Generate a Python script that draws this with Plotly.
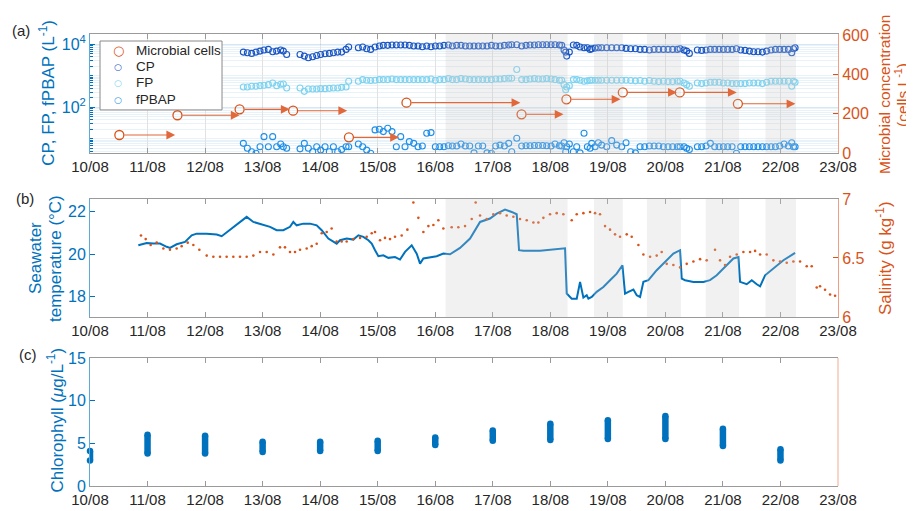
import pandas as pd
import plotly.graph_objects as go

# ---------------- DATA ----------------
day_ticks = ["10/08", "11/08", "12/08", "13/08", "14/08", "15/08", "16/08",
             "17/08", "18/08", "19/08", "20/08", "21/08", "22/08", "23/08"]

# shaded periods (days since 10/08 00:00)
band_start = [6.18, 8.76, 9.68, 10.70, 11.74]
band_end = [8.30, 9.26, 10.27, 11.28, 12.27]

# Panel (a): particle counter sampling times (days since 10/08 00:00)
t_wibs = [2.665, 2.735, 2.81, 2.885, 2.955, 3.024, 3.1, 3.175, 3.244, 3.314, 3.36, 3.418,
          3.65, 3.725, 3.795, 3.87, 3.94, 4.009, 4.085, 4.16, 4.23, 4.305, 4.374, 4.45, 4.496,
          4.664, 4.739, 4.809, 4.878, 4.954, 5.029, 5.098, 5.174, 5.249, 5.324, 5.4, 5.475,
          5.55, 5.626, 5.701, 5.776, 5.852, 5.927, 6.002, 6.078, 6.153, 6.228,
          6.298, 6.373, 6.448, 6.524, 6.599, 6.674, 6.75, 6.825, 6.9, 6.976, 7.051, 7.126,
          7.202, 7.277, 7.329, 7.417,
          7.503, 7.578, 7.648, 7.723, 7.793, 7.868, 7.937, 8.013, 8.082, 8.158, 8.198,
          8.239, 8.268, 8.285, 8.331,
          8.401, 8.459, 8.517, 8.586, 8.644, 8.691, 8.72, 8.778, 8.835, 8.893, 8.98, 9.067,
          9.154, 9.241,
          9.316, 9.397, 9.479, 9.56, 9.641, 9.722, 9.803, 9.884, 9.965, 10.046, 10.127,
          10.208, 10.255, 10.324, 10.37, 10.417,
          10.556, 10.631, 10.707, 10.782, 10.857, 10.933, 11.008, 11.083, 11.159, 11.234,
          11.309, 11.385, 11.46, 11.535, 11.61, 11.686, 11.761, 11.837, 11.912, 11.987,
          12.063, 12.138, 12.196, 12.225, 12.254]

cp = [5680, 5410, 5150, 5680, 6110, 6580, 6920, 5790, 6110, 6580, 6110, 4780,
      4780, 4230, 3740, 4030, 4440, 4780, 5000, 5150, 5410, 5680, 5680, 6920, 8220,
      7820, 8220, 7260, 6920, 8220, 8850, 9290, 9290, 9520, 9520, 9520, 9520,
      9290, 8850, 8850, 8440, 8850, 8440, 8850, 8850, 9290, 9520,
      8850, 9290, 9290, 8850, 8850, 8850, 8850, 8850, 8850, 9290, 8850, 8850,
      9290, 9520, 9750, 9750,
      8850, 9290, 9520, 9520, 9750, 9750, 9750, 9750, 9750, 9520, 9290,
      6580, 5680, 4230, 5680,
      9520, 9290, 8220, 7820, 7820, 6920, 7260, 7600, 7820, 7820, 7820, 7820,
      7820, 7820,
      7430, 7260, 7260, 6920, 6920, 6580, 6920, 6920, 6920, 6920, 6920,
      6920, 7260, 6580, 6110, 5150,
      6580, 6420, 6580, 6920, 6920, 6920, 6920, 6920, 6920, 7260,
      6580, 6420, 6110, 5800, 5800, 5680, 6110, 6580, 6920, 6920,
      6920, 6920, 5410, 7260, 7820]

fp = [440, 440, 462, 462, 485, 497, 522, 591, 485, 535, 548, 408,
      408, 319, 380, 380, 380, 389, 389, 398, 408, 408, 428, 440, 668,
      668, 755, 720, 705, 720, 755, 755, 755, 790, 755, 755, 755,
      755, 755, 755, 755, 755, 790, 720, 755, 755, 813,
      755, 755, 813, 790, 755, 755, 755, 755, 755, 755, 790, 790,
      813, 830, 830, 1580,
      755, 755, 790, 813, 790, 790, 813, 790, 755, 720, 720,
      522, 361, 440, 485,
      755, 755, 720, 668, 690, 720, 720, 720, 720, 720, 720, 720,
      720, 720,
      720, 705, 690, 705, 668, 705, 668, 652, 668, 652, 652,
      668, 668, 591, 522, 462,
      591, 563, 591, 620, 620, 620, 591, 591, 563, 563,
      563, 563, 591, 591, 591, 563, 620, 668, 668, 668,
      668, 668, 462, 668, 620]

fpbap = [7.05, 4.9, 3.8, 3.4, 5.5, 11.5, 5.5, 11.5, 5.5, 6.7, 5.5, 4.9,
         4.7, 7.05, 4.9, 3.8, 5.5, 4.3, 5.5, 3.8, 5.5, 3.8, 4.5, 5.5, 5.5,
         6.7, 5.5, 4.3, 3.4, 18.9, 19.8, 16.7, 21.3, 16.7, 5.5, 11.5, 5.5,
         8.0, 7.05, 5.5, 5.8, 14.8, 15.5, 5.5, 5.5, 5.5, 5.9,
         5.8, 5.8, 6.7, 5.8, 5.8, 3.5, 5.8, 5.8, 3.5, 3.4, 5.8, 6.2,
         5.8, 7.05, 3.8, 10.2,
         5.8, 5.9, 5.9, 6.0, 6.0, 6.0, 5.9, 5.8, 6.7, 5.9, 5.8,
         7.4, 3.8, 5.5, 6.7,
         3.8, 5.5, 3.5, 14.8, 5.5, 4.9, 7.05, 5.5, 7.4, 6.2, 5.5, 8.6,
         6.2, 5.5,
         7.4, 3.8, 3.5, 5.5, 5.5, 5.8, 5.8, 5.8, 5.5, 5.5, 5.5,
         5.5, 5.5, 5.5, 4.9, 4.5,
         5.5, 5.5, 5.8, 7.05, 5.5, 5.5, 5.5, 5.5, 5.5, 3.4,
         5.5, 5.5, 5.5, 5.5, 5.5, 5.5, 5.5, 5.5, 5.5, 5.8,
         6.7, 5.8, 7.4, 5.5, 5.5]

# Microbial cells (right axis): sample start, value, end of sampling period
micro_t = [0.51, 1.52, 2.60, 3.53, 4.50, 5.50, 7.50, 8.28, 9.26, 10.25, 11.26]
micro_v = [93, 193, 223, 216, 81, 257, 198, 274, 309, 309, 251]
micro_end = [1.48, 2.60, 3.47, 4.47, 5.37, 7.48, 8.23, 9.22, 10.20, 11.24, 12.26]

# Panel (b): seawater temperature
temp_t = [0.84, 0.985, 1.10, 1.217, 1.333, 1.39, 1.506, 1.593, 1.651, 1.767, 1.854, 2.028,
          2.202, 2.289, 2.491, 2.607, 2.723, 2.839, 3.013, 3.129, 3.244, 3.36, 3.476, 3.534,
          3.592, 3.708, 3.824, 3.94, 4.027, 4.142, 4.287, 4.345, 4.461, 4.577, 4.664, 4.751,
          4.838, 4.896, 4.954, 5.012, 5.098, 5.185, 5.301, 5.388, 5.475, 5.591, 5.678, 5.736,
          5.794, 5.910, 6.025, 6.141, 6.257, 6.431, 6.605, 6.779, 6.952, 7.068, 7.213, 7.329,
          7.416, 7.457, 7.532, 7.822, 8.053, 8.256, 8.285, 8.372, 8.459, 8.517, 8.575, 8.633,
          8.662, 8.72, 8.806, 8.922, 9.038, 9.154, 9.253, 9.299, 9.357, 9.444, 9.502, 9.56,
          9.618, 9.705, 9.849, 10.023, 10.139, 10.255, 10.284, 10.342, 10.487, 10.66, 10.776,
          10.892, 11.066, 11.182, 11.269, 11.298, 11.414, 11.501, 11.588, 11.646, 11.733,
          11.878, 12.051, 12.254]
temp_v = [20.42, 20.53, 20.50, 20.50, 20.35, 20.30, 20.47, 20.53, 20.58, 20.89, 20.97, 20.97,
          20.93, 20.85, 21.29, 21.52, 21.76, 21.52, 21.36, 21.29, 21.13, 21.13, 21.29, 21.52,
          21.36, 21.44, 21.44, 21.36, 21.13, 20.74, 20.50, 20.66, 20.74, 20.69, 20.89, 20.82,
          20.66, 20.50, 20.19, 19.91, 19.95, 19.83, 19.87, 19.75, 20.11, 20.42, 20.03, 19.56,
          19.80, 19.87, 19.91, 20.03, 20.00, 20.30, 20.74, 21.52, 21.68, 21.91, 22.10, 21.99,
          21.88, 20.19, 20.16, 20.16, 20.22, 20.28, 18.15, 17.91, 17.91, 18.70, 17.96, 18.07,
          17.91, 17.99, 18.23, 18.46, 18.78, 19.09, 19.48, 18.15, 18.23, 18.34, 18.07, 17.99,
          18.70, 18.78, 19.25, 19.72, 20.03, 20.19, 18.85, 18.78, 18.70, 18.70, 18.78,
          19.01, 19.48, 19.80, 19.87, 18.70, 18.59, 18.78, 18.59, 18.49, 19.01,
          19.33, 19.72, 20.06]

# Panel (b): salinity
sal_t = [0.886, 0.968, 1.054, 1.159, 1.275, 1.39, 1.506, 1.593, 1.698, 1.796, 1.9, 2.028,
         2.144, 2.26, 2.375, 2.491, 2.607, 2.723, 2.839, 2.955, 3.071, 3.187, 3.302, 3.389,
         3.476, 3.563, 3.65, 3.766, 3.853, 3.94, 4.027, 4.114, 4.2, 4.287, 4.374, 4.461,
         4.577, 4.693, 4.809, 4.896, 4.954, 5.041, 5.127, 5.214, 5.301, 5.417, 5.516, 5.62,
         5.707, 5.794, 5.881, 5.968, 6.054, 6.141, 6.286, 6.402, 6.518, 6.634, 6.703, 6.779,
         6.895, 7.01, 7.126, 7.242, 7.358, 7.474, 7.59, 7.706, 7.793, 7.88, 7.995, 8.111,
         8.227, 8.372, 8.459, 8.575, 8.691, 8.778, 8.864, 8.951, 9.038, 9.125, 9.212, 9.328,
         9.415, 9.531, 9.618, 9.734, 9.849, 9.936, 10.023, 10.139, 10.255, 10.371, 10.487,
         10.603, 10.718, 10.863, 10.95, 11.037, 11.124, 11.24, 11.356, 11.472, 11.559, 11.646,
         11.761, 11.877, 11.993, 12.109, 12.225, 12.341, 12.456, 12.543, 12.63, 12.688,
         12.775, 12.862, 12.949]
sal_v = [6.69, 6.66, 6.61, 6.63, 6.58, 6.57, 6.58, 6.60, 6.63, 6.61, 6.57, 6.52,
         6.51, 6.51, 6.51, 6.51, 6.51, 6.51, 6.52, 6.55, 6.55, 6.53, 6.59, 6.59,
         6.55, 6.55, 6.57, 6.58, 6.60, 6.62, 6.71, 6.72, 6.75, 6.64, 6.64, 6.64,
         6.66, 6.67, 6.68, 6.71, 6.72, 6.65, 6.67, 6.66, 6.68, 6.69, 6.74, 6.97,
         6.84, 6.72, 6.77, 6.78, 6.82, 6.75, 6.76, 6.76, 6.77, 6.83, 6.97, 6.86,
         6.83, 6.87, 6.88, 6.86, 6.85, 6.83, 6.82, 6.80, 6.80, 6.84, 6.87, 6.88,
         6.87, 6.82, 6.87, 6.88, 6.89, 6.88, 6.87, 6.77, 6.74, 6.70, 6.68, 6.70,
         6.68, 6.61, 6.53, 6.51, 6.52, 6.55, 6.45, 6.44, 6.42, 6.45, 6.47,
         6.49, 6.48, 6.57, 6.48, 6.44, 6.51, 6.53, 6.55, 6.55, 6.56, 6.53,
         6.53, 6.48, 6.47, 6.46, 6.47, 6.47, 6.43, 6.43, 6.25, 6.26,
         6.23, 6.19, 6.18]

# Panel (c): daily chlorophyll range
chl_day = [0, 1, 2, 3, 4, 5, 6, 7, 8, 9, 10, 11, 12]
chl_min = [3.0, 3.8, 3.8, 4.0, 4.1, 4.1, 4.8, 5.3, 5.4, 5.5, 5.5, 4.7, 3.0]
chl_max = [4.1, 6.0, 5.9, 5.2, 5.2, 5.3, 5.7, 6.5, 7.3, 7.7, 8.2, 6.7, 4.3]

# legend entries
legend_names = ["Microbial cells", "CP", "FP", "fPBAP"]

# ---------------- HELPERS ----------------
base = pd.Timestamp("2021-08-10")


def to_dt(days):
    return [base + pd.Timedelta(days=float(d)) for d in days]


def iso(d):
    return (base + pd.Timedelta(days=float(d))).strftime("%Y-%m-%d %H:%M:%S")


BLUE = "#0072BD"
ORANGE = "#D95319"
CP_C = "#1A56C4"
FP_C = "#7DD3F0"
FPB_C = "#1E8FEA"
AXG = "#9A9A9A"
TXT = "#262626"
FONT = "Liberation Sans, Arial, Helvetica, sans-serif"

fig = go.Figure()

# Panel (a)
fig.add_trace(go.Scatter(x=to_dt(micro_t), y=micro_v, mode="markers", name=legend_names[0],
                         marker=dict(symbol="circle-open", size=9, color=ORANGE, line=dict(width=1.3)),
                         xaxis="x", yaxis="y2", showlegend=False))
fig.add_trace(go.Scatter(x=to_dt(t_wibs), y=cp, mode="markers", name=legend_names[1],
                         marker=dict(symbol="circle-open", size=6, color=CP_C, line=dict(width=1.1)),
                         xaxis="x", yaxis="y", showlegend=False))
fig.add_trace(go.Scatter(x=to_dt(t_wibs), y=fp, mode="markers", name=legend_names[2],
                         marker=dict(symbol="circle-open", size=6, color=FP_C, line=dict(width=1.1)),
                         xaxis="x", yaxis="y", showlegend=False))
fig.add_trace(go.Scatter(x=to_dt(t_wibs), y=fpbap, mode="markers", name=legend_names[3],
                         marker=dict(symbol="circle-open", size=6, color=FPB_C, line=dict(width=1.1)),
                         xaxis="x", yaxis="y", showlegend=False))

# Panel (b)
fig.add_trace(go.Scatter(x=to_dt(temp_t), y=temp_v, mode="lines", showlegend=False,
                         name="Seawater temperature",
                         line=dict(color=BLUE, width=2), xaxis="x2", yaxis="y3"))
fig.add_trace(go.Scatter(x=to_dt(sal_t), y=sal_v, mode="markers", showlegend=False,
                         name="Salinity",
                         marker=dict(size=2.6, color=ORANGE), xaxis="x2", yaxis="y4"))

# Panel (c)
cx, cy = [], []
for d, lo, hi in zip(chl_day, chl_min, chl_max):
    t = base + pd.Timedelta(days=d)
    cx += [t, t, None]
    cy += [lo, hi, None]
fig.add_trace(go.Scatter(x=cx, y=cy, mode="lines+markers", showlegend=False, cliponaxis=False,
                         name="Chlorophyll",
                         line=dict(color=BLUE, width=6.5),
                         marker=dict(size=6.5, color=BLUE), xaxis="x3", yaxis="y5"))

# arrows for microbial sampling periods
ann = []
for s, v, e in zip(micro_t, micro_v, micro_end):
    ann.append(dict(x=iso(e), y=v, ax=iso(s + 0.06), ay=v, xref="x", yref="y2",
                    axref="x", ayref="y2", showarrow=True, arrowhead=2, arrowsize=1.6,
                    arrowwidth=1.1, arrowcolor="#E0683A", text=""))

# panel letters
for txt, xx, yy in [("(a)", -0.1075, 1.008), ("(b)", -0.1015, 0.637), ("(c)", -0.097, 0.29)]:
    ann.append(dict(text=txt, xref="paper", yref="paper", x=xx, y=yy, showarrow=False,
                    xanchor="left", yanchor="middle", font=dict(size=15, color=TXT, family=FONT)))

# axis titles (rotated text, placed like the reference)
titles = [
    ("CP, FP, fPBAP (L<sup>-1</sup>)", -0.0568, 0.869, BLUE, 17),
    ("Microbial concentration", 1.0615, 0.865, ORANGE, 15.5),
    ("(cells L<sup>-1</sup>)", 1.0855, 0.865, ORANGE, 15.5),
    ("Seawater", -0.0735, 0.5044, BLUE, 17),
    ("temperature (°C)", -0.0468, 0.5044, BLUE, 17),
    ("Salinity (g kg<sup>-1</sup>)", 1.0615, 0.5044, ORANGE, 17),
    ("Chlorophyll (<i>μ</i>g/L<sup>-1</sup>)", -0.0461, 0.146, BLUE, 17),
]
for txt, xx, yy, col, fs in titles:
    ann.append(dict(text=txt, xref="paper", yref="paper", x=xx, y=yy, showarrow=False,
                    textangle=-90, xanchor="center", yanchor="middle",
                    font=dict(size=fs, color=col, family=FONT)))

# legend (box drawn as shape, entries as text)
leg_y = [0.963, 0.9277, 0.8923, 0.854]
leg_col = [ORANGE, CP_C, FP_C, FPB_C]
leg_sym_size = [13, 9, 9, 9]
for name, yy, col, ss in zip(legend_names, leg_y, leg_col, leg_sym_size):
    ann.append(dict(text="○", xref="paper", yref="paper", x=0.0378, y=yy, showarrow=False,
                    xanchor="center", yanchor="middle",
                    font=dict(size=ss, color=col, family="DejaVu Sans")))
    ann.append(dict(text=name, xref="paper", yref="paper", x=0.0585, y=yy, showarrow=False,
                    xanchor="left", yanchor="middle", font=dict(size=13.5, color=TXT, family=FONT)))

shapes = []
for s, e in zip(band_start, band_end):
    for xr_, yr in [("x", "y domain"), ("x2", "y3 domain")]:
        shapes.append(dict(type="rect", xref=xr_, yref=yr, x0=iso(s), x1=iso(e), y0=0, y1=1,
                           fillcolor="rgba(200,200,200,0.26)", line=dict(width=0), layer="above"))
# legend box
shapes.append(dict(type="rect", xref="paper", yref="paper", x0=0.0134, x1=0.1765,
                   y0=0.832, y1=0.9845, fillcolor="white", line=dict(color="#8A8A8A", width=1),
                   layer="above"))
# right border of panel (c)
shapes.append(dict(type="line", xref="x3 domain", yref="y5 domain", x0=1, x1=1, y0=0, y1=1,
                   line=dict(color="#F4B9A0", width=1.2)))

xr = [base, base + pd.Timedelta(days=13)]
tickvals_x = [base + pd.Timedelta(days=i) for i in range(len(day_ticks))]

xcommon = dict(type="date", range=xr, tickvals=tickvals_x, ticktext=day_ticks,
               ticks="inside", ticklen=5, tickcolor=AXG, showline=True, linecolor=AXG,
               linewidth=1, mirror="ticks", tickfont=dict(size=15, color=TXT), zeroline=False,
               automargin=False)

minor_vals = [m * 10 ** k for k in range(0, 5) for m in range(2, 10)] + [10, 1000]

fig.update_layout(
    width=906, height=503,
    margin=dict(l=82, r=76, t=26, b=25),
    paper_bgcolor="white", plot_bgcolor="white",
    font=dict(family=FONT, size=15, color=TXT),
    showlegend=False,
    xaxis=dict(**xcommon, domain=[0, 1], anchor="y", showgrid=True, gridcolor="#E2E2E2"),
    xaxis2=dict(**xcommon, domain=[0, 1], anchor="y3", showgrid=False),
    xaxis3=dict(**xcommon, domain=[0, 1], anchor="y5", showgrid=False),
    yaxis=dict(type="log", domain=[0.736, 1.0], range=[0.53, 4.33],
               tickvals=[100, 10000], ticktext=["10<sup>2</sup>", "10<sup>4</sup>"],
               ticks="inside", ticklen=5, tickcolor=BLUE, showline=True, linecolor="#5FA8DA",
               tickfont=dict(size=16, color=BLUE), showgrid=True,
               gridcolor="rgba(0,114,189,0.16)", automargin=False,
               minor=dict(tickvals=minor_vals, ticks="inside", ticklen=3, tickcolor=BLUE,
                          showgrid=True, gridcolor="rgba(0,114,189,0.09)"),
               zeroline=False),
    yaxis2=dict(overlaying="y", side="right", anchor="x", range=[0, 605],
                tickvals=[0, 200, 400, 600], ticks="inside", ticklen=5, tickcolor=ORANGE,
                showline=True, linecolor="#F0A080", tickfont=dict(size=16, color=ORANGE),
                showgrid=False, zeroline=False, automargin=False),
    yaxis3=dict(domain=[0.374, 0.635], anchor="x2", range=[17.05, 22.6],
                tickvals=[18, 20, 22], ticks="inside", ticklen=5, tickcolor=BLUE,
                showline=True, linecolor="#5FA8DA", tickfont=dict(size=16, color=BLUE),
                showgrid=False, zeroline=False, automargin=False),
    yaxis4=dict(overlaying="y3", side="right", anchor="x2", range=[6, 7],
                tickvals=[6, 6.5, 7], ticks="inside", ticklen=5, tickcolor=ORANGE,
                showline=True, linecolor="#F0A080", tickfont=dict(size=16, color=ORANGE),
                showgrid=False, zeroline=False, automargin=False),
    yaxis5=dict(domain=[0, 0.283], anchor="x3", range=[0, 15],
                tickvals=[0, 5, 10, 15], ticks="inside", ticklen=5, tickcolor=BLUE,
                showline=True, linecolor="#5FA8DA", tickfont=dict(size=16, color=BLUE),
                showgrid=False, zeroline=False, automargin=False),
    annotations=ann,
    shapes=shapes,
)

fig.write_html("out.html")
